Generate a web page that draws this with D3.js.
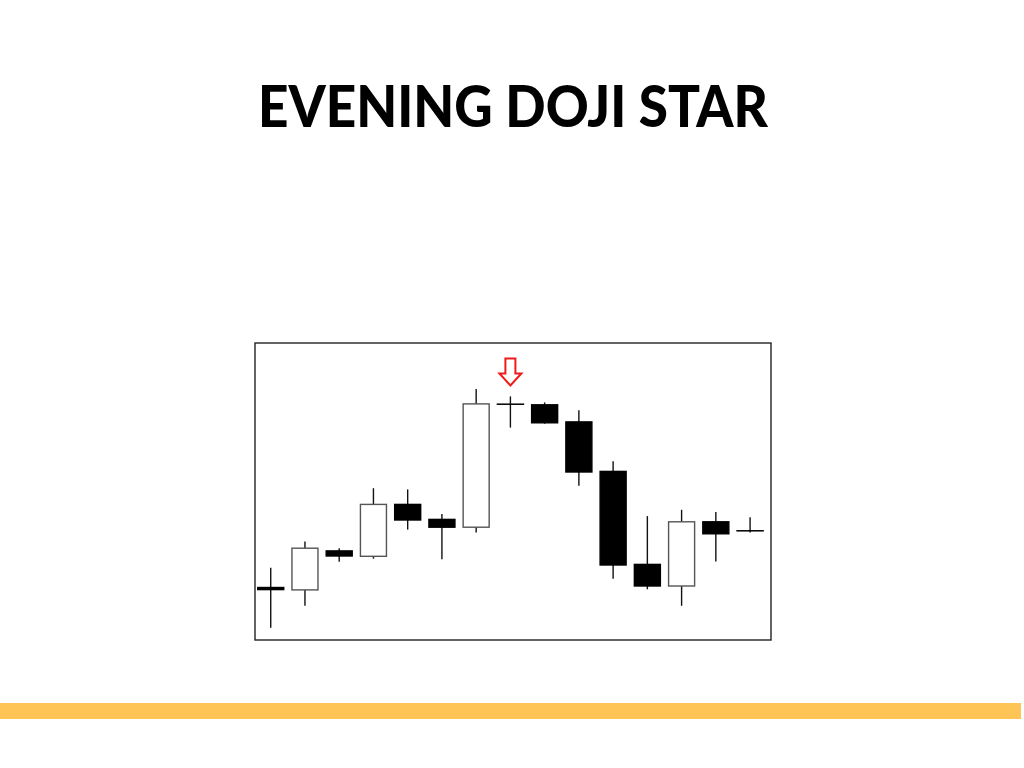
<!DOCTYPE html>
<html>
<head>
<meta charset="utf-8">
<script src="https://cdn.jsdelivr.net/npm/d3@7"></script>
<style>
    body { margin: 0; background: #fff; }
    svg { display: block; }
    .title { font-family: Lato, 'Open Sans', sans-serif; font-weight: 900; fill: #000; }
</style>
</head>
<body>
<div class="chart"></div>
<script>
// candle data (arbitrary price units)
const sessions = d3.range(1, 16).map((d) => `d${d}`);
const opens = [17.5, 16.7, 29.7, 27.9, 45.2, 40.2, 37.6, 78.6, 78.4, 72.7, 56.2, 25.2, 18.0, 39.4, 36.4];
const closes = [16.8, 30.6, 28.0, 45.2, 40.0, 37.6, 78.7, 78.6, 72.4, 56.0, 25.0, 18.0, 39.4, 35.4, 36.4];
const highs = [24.1, 32.8, 30.6, 50.6, 50.2, 42.0, 83.7, 81.2, 79.2, 76.6, 59.6, 41.3, 43.4, 42.7, 40.9];
const lows = [4.1, 11.4, 26.1, 27.1, 36.8, 26.9, 35.8, 70.8, 72.1, 51.4, 20.4, 16.9, 11.4, 26.2, 35.8];
const starIndex = 7; // the doji marked with the arrow
const titleText = 'EVENING DOJI STAR';

const width = 1024;
const height = 768;

const frame = { left: 255, top: 343, right: 771, bottom: 640 };

const svg = d3.select('.chart')
    .append('svg')
    .attr('width', width)
    .attr('height', height);

// title
svg.append('text')
    .attr('class', 'title')
    .attr('x', 258)
    .attr('y', 127)
    .attr('font-size', 57)
    .attr('textLength', 510)
    .attr('lengthAdjust', 'spacingAndGlyphs')
    .text(titleText);

// chart frame
svg.append('rect')
    .attr('x', frame.left)
    .attr('y', frame.top)
    .attr('width', frame.right - frame.left)
    .attr('height', frame.bottom - frame.top)
    .attr('fill', '#fff')
    .attr('stroke', '#222')
    .attr('stroke-width', 1.4);

const candles = sessions.map((s, i) => ({
    key: s,
    open: opens[i],
    close: closes[i],
    high: highs[i],
    low: lows[i],
}));

const x = d3.scaleBand()
    .domain(sessions)
    .range([253.6, 767.2])
    .paddingInner(0.24)
    .paddingOuter(0.12);

const y = d3.scaleLinear()
    .domain([0, 99])
    .range([frame.bottom, frame.top]);

const cx = (d) => x(d.key) + x.bandwidth() / 2;

const g = svg.append('g').attr('class', 'candles');

// wicks
g.selectAll('.wick')
    .data(candles)
    .enter()
    .append('line')
    .attr('class', 'wick')
    .attr('x1', cx)
    .attr('x2', cx)
    .attr('y1', (d) => y(d.high))
    .attr('y2', (d) => y(d.low))
    .attr('stroke', '#111')
    .attr('stroke-width', 1.4);

// bodies
g.selectAll('.body')
    .data(candles)
    .enter()
    .append('rect')
    .attr('class', 'body')
    .attr('x', (d) => x(d.key))
    .attr('width', x.bandwidth())
    .attr('y', (d) => y(Math.max(d.open, d.close)))
    .attr('height', (d) => Math.max(0.01, Math.abs(y(d.open) - y(d.close))))
    .attr('fill', (d) => (d.close > d.open ? '#fff' : '#000'))
    .attr('stroke', (d) => (d.close > d.open ? '#555' : '#000'))
    .attr('stroke-width', (d) => (d.close === d.open ? 1.5 : 1.4));

// red hollow arrow above the star
const star = candles[starIndex];
const ax = cx(star);
const tip = y(star.high) - 11;
const arrow = d3.path();
arrow.moveTo(ax - 5, tip - 27);
arrow.lineTo(ax + 5, tip - 27);
arrow.lineTo(ax + 5, tip - 12);
arrow.lineTo(ax + 11, tip - 12);
arrow.lineTo(ax, tip);
arrow.lineTo(ax - 11, tip - 12);
arrow.lineTo(ax - 5, tip - 12);
arrow.closePath();

svg.append('path')
    .attr('d', arrow.toString())
    .attr('fill', '#fff')
    .attr('stroke', '#ee1c1c')
    .attr('stroke-width', 2)
    .attr('stroke-linejoin', 'miter');

// gold band at the bottom
svg.append('rect')
    .attr('x', 0)
    .attr('y', 703)
    .attr('width', 1021)
    .attr('height', 16)
    .attr('fill', '#fec455');
</script>
</body>
</html>
